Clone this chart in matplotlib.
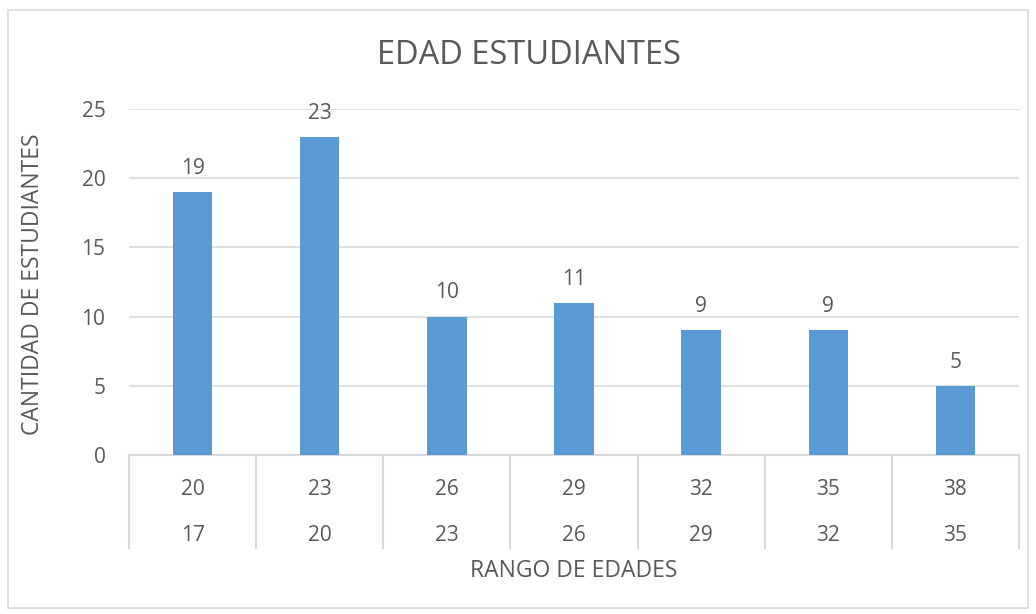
import matplotlib.pyplot as plt
from matplotlib.patches import Rectangle
import matplotlib.transforms as mtransforms

# datos
hasta = ['20', '23', '26', '29', '32', '35', '38']
desde = ['17', '20', '23', '26', '29', '32', '35']
cantidad = [19, 23, 10, 11, 9, 9, 5]

plt.rcParams['font.family'] = ['Open Sans', 'DejaVu Sans']
gris = '#595959'
linea = '#D9D9D9'
fs = 15

fig = plt.figure(figsize=(10.36, 6.14), dpi=100)
ax = fig.add_axes([129/1036, 1 - 455/614, 890/1036, 346/614])

x = list(range(len(cantidad)))
barras = ax.bar(x, cantidad, width=0.31, color='#5B9BD5', zorder=3)
for xi, v in zip(x, cantidad):
    ax.annotate(str(v), (xi, v), xytext=(0, 17), textcoords='offset points',
                ha='center', va='center', fontsize=fs, color=gris)

ax.set_xlim(-0.5, len(cantidad) - 0.5)
ax.set_ylim(0, 25)
ax.set_yticks([0, 5, 10, 15, 20, 25])
ax.tick_params(axis='y', length=0, pad=17, labelsize=fs, labelcolor=gris)
ax.set_xticks([])
ax.grid(axis='y', color=linea, linewidth=1.2, zorder=0)
for s in ['top', 'right', 'left']:
    ax.spines[s].set_visible(False)
ax.spines['bottom'].set_color(linea)
ax.spines['bottom'].set_linewidth(1.5)

# eje de categorías en dos niveles
tr = mtransforms.blended_transform_factory(ax.transData, ax.transAxes)
for b in range(len(cantidad) + 1):
    ax.plot([b - 0.5, b - 0.5], [0, -0.269], transform=tr, color=linea,
            linewidth=1.5, clip_on=False)
for xi in x:
    ax.text(xi, -0.1, hasta[xi], transform=tr, ha='center', va='center',
            fontsize=fs, color=gris)
    ax.text(xi, -0.234, desde[xi], transform=tr, ha='center', va='center',
            fontsize=fs, color=gris)

ax.text(0.5, -0.335, 'RANGO DE EDADES', transform=ax.transAxes, ha='center',
        va='center', fontsize=16.5, color=gris)
fig.text(33/1036, 1 - 284/614, 'CANTIDAD DE ESTUDIANTES', rotation=90,
         ha='center', va='center', fontsize=16.5, color=gris)
fig.text(529/1036, 1 - 55/614, 'EDAD ESTUDIANTES', ha='center', va='center',
         fontsize=23.5, color=gris)

fig.patches.append(Rectangle((8/1036, 6/614), 1020/1036, 598/614,
                             transform=fig.transFigure, fill=False,
                             edgecolor=linea, linewidth=1.2))

fig.savefig('out.png', dpi=100)
